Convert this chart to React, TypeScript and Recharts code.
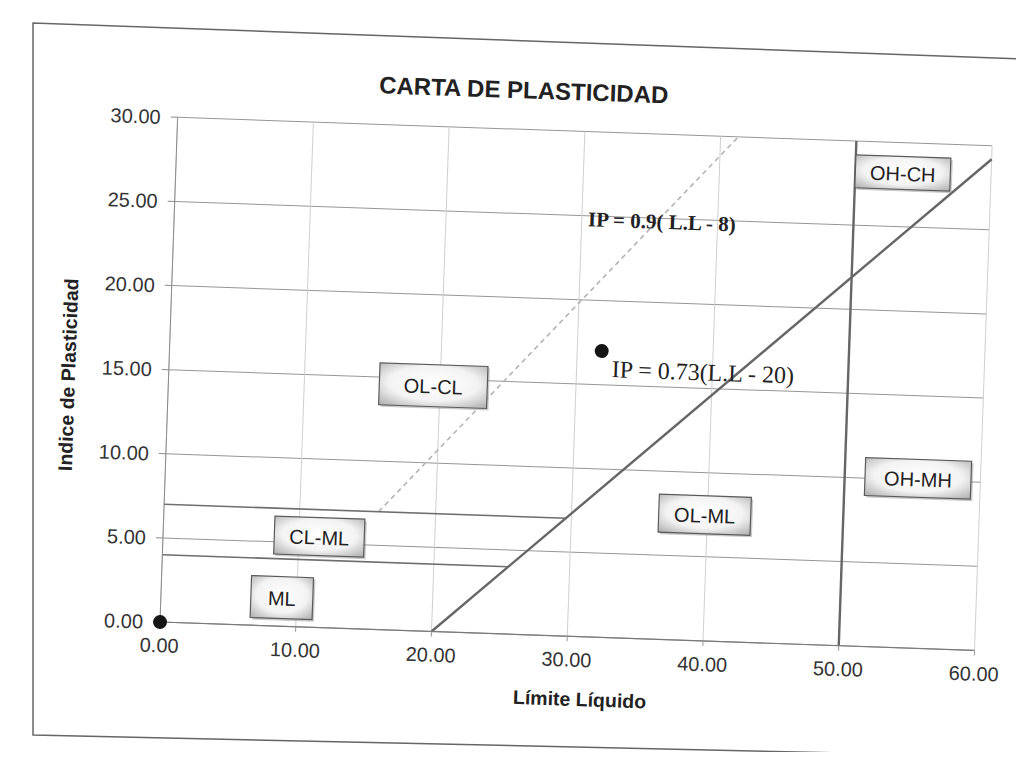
import React from "react";
import {
  ScatterChart,
  Scatter,
  XAxis,
  YAxis,
  CartesianGrid,
  ReferenceLine,
} from "recharts";

// ---------- data ----------
const xTicks = [0, 10, 20, 30, 40, 50, 60];
const yTicks = [0, 5, 10, 15, 20, 25, 30];

const samplePoints = [
  { x: 0, y: 0 },
  { x: 31.8, y: 17.0 },
];

const aLine = [
  { x: 20, y: 0 },
  { x: 60, y: 29.2 },
];
const uLine = [
  { x: 15.8, y: 7.0 },
  { x: 41.3, y: 30.0 },
];
const llFifty = [
  { x: 50, y: 0 },
  { x: 50, y: 30 },
];
const clmlUpper = [
  { x: 0, y: 7 },
  { x: 29.6, y: 7 },
];
const clmlLower = [
  { x: 0, y: 4 },
  { x: 25.5, y: 4 },
];

const zoneLabels = [
  { x: 19.5, y: 14.6, name: "OL-CL" },
  { x: 11.5, y: 5.4, name: "CL-ML" },
  { x: 8.9, y: 1.7, name: "ML" },
  { x: 39.8, y: 7.5, name: "OL-ML" },
  { x: 55.4, y: 10.1, name: "OH-MH" },
  { x: 53.5, y: 28.2, name: "OH-CH" },
];

const equations = [
  { x: 35.9, y: 24.8, text: "IP = 0.9( L.L - 8)" },
  { x: 39.3, y: 15.95, text: "IP = 0.73(L.L - 20)" },
];

const chartTitle = "CARTA DE PLASTICIDAD";
const xTitle = "Límite Líquido";
const yTitle = "Indice de Plasticidad";

// ---------- styles ----------
const SANS = "'Liberation Sans', Arial, Helvetica, sans-serif";
const SERIF = "'Liberation Serif', 'Times New Roman', serif";
const BOX_W: Record<string, number> = {
  "OL-CL": 108,
  "CL-ML": 90,
  ML: 62,
  "OL-ML": 92,
  "OH-MH": 106,
  "OH-CH": 95,
};
const BOX_H: Record<string, number> = {
  "OL-CL": 42,
  "CL-ML": 38,
  ML: 42,
  "OL-ML": 38,
  "OH-MH": 38,
  "OH-CH": 33,
};
const EQ_STYLE = [
  { fontSize: 21, fontWeight: "bold" },
  { fontSize: 24, fontWeight: "normal" },
];

const fmt = (v: number) => v.toFixed(2);

function ZoneBox(props: any) {
  const { cx, cy, payload } = props;
  if (cx == null || cy == null) return null;
  const w = BOX_W[payload.name] ?? 96;
  const h = BOX_H[payload.name] ?? 38;
  return (
    <g>
      <rect
        x={cx - w / 2 + 2}
        y={cy - h / 2 + 2}
        width={w}
        height={h}
        fill="#8c8c8c"
        opacity={0.45}
      />
      <rect
        x={cx - w / 2}
        y={cy - h / 2}
        width={w}
        height={h}
        fill="url(#boxFill)"
        stroke="#5a5a5a"
        strokeWidth={1.2}
      />
      <text
        x={cx}
        y={cy + 1}
        textAnchor="middle"
        dominantBaseline="central"
        fontFamily={SANS}
        fontSize={20}
        fill="#222"
      >
        {payload.name}
      </text>
    </g>
  );
}

function EquationText(props: any) {
  const { cx, cy, payload, index } = props;
  if (cx == null || cy == null) return null;
  const st = EQ_STYLE[equations.indexOf(payload?.payload ?? payload)] ??
    EQ_STYLE[index ?? 0] ?? EQ_STYLE[0];
  return (
    <text
      x={cx}
      y={cy}
      textAnchor="middle"
      dominantBaseline="central"
      fontFamily={SERIF}
      fontSize={st.fontSize}
      fontWeight={st.fontWeight}
      fill="#222"
    >
      {payload.text}
    </text>
  );
}

function Dot(props: any) {
  const { cx, cy } = props;
  if (cx == null || cy == null) return null;
  return <circle cx={cx} cy={cy} r={7} fill="#151515" />;
}

export default function App() {
  return (
    <div
      style={{
        position: "relative",
        width: 1008,
        height: 744,
        overflow: "hidden",
        background: "#fff",
      }}
    >
      <svg
        width={1008}
        height={744}
        style={{ position: "absolute", left: 0, top: 0 }}
      >
        <polyline
          points="1016,51 25,15 25,727 1016,749"
          fill="none"
          stroke="#666"
          strokeWidth={1.5}
        />
      </svg>
      <div
        style={{
          position: "absolute",
          left: 0,
          top: 0,
          width: 1000,
          height: 740,
          transform: "rotate(2deg)",
          transformOrigin: "152px 614px",
        }}
      >
        <div
          style={{
            position: "absolute",
            left: 497,
            top: 70,
            transform: "translate(-50%, -50%)",
            whiteSpace: "nowrap",
            fontFamily: SANS,
            fontWeight: "bold",
            fontSize: 24,
            color: "#222",
          }}
        >
          {chartTitle}
        </div>
        <div
          style={{
            position: "absolute",
            left: 52,
            top: 370,
            transform: "translate(-50%, -50%) rotate(-90deg)",
            whiteSpace: "nowrap",
            fontFamily: SANS,
            fontWeight: "bold",
            fontSize: 19.5,
            color: "#222",
          }}
        >
          {yTitle}
        </div>
        <div
          style={{
            position: "absolute",
            left: 574,
            top: 677,
            transform: "translate(-50%, -50%)",
            whiteSpace: "nowrap",
            fontFamily: SANS,
            fontWeight: "bold",
            fontSize: 19.5,
            color: "#222",
          }}
        >
          {xTitle}
        </div>
        <div style={{ position: "absolute", left: 0, top: 0 }}>
          <ScatterChart
            width={1000}
            height={740}
            margin={{ top: 109, right: 33, bottom: 46, left: 0 }}
          >
            <defs>
              <radialGradient id="boxFill" cx="50%" cy="45%" r="75%">
                <stop offset="0%" stopColor="#ffffff" />
                <stop offset="55%" stopColor="#f3f3f3" />
                <stop offset="100%" stopColor="#a9a9a9" />
              </radialGradient>
            </defs>
            <CartesianGrid vertical={false} stroke="#969696" strokeWidth={1} />
            <CartesianGrid horizontal={false} stroke="#cfcfcf" strokeWidth={1} />
            <XAxis
              type="number"
              dataKey="x"
              domain={[0, 60]}
              ticks={xTicks}
              tickFormatter={fmt}
              height={80}
              axisLine={{ stroke: "#7a7a7a", strokeWidth: 1.2 }}
              tickLine={{ stroke: "#999" }}
              tickSize={5}
              tickMargin={11}
              tick={{ fill: "#333", fontSize: 20, fontFamily: SANS }}
            />
            <YAxis
              type="number"
              dataKey="y"
              domain={[0, 30]}
              ticks={yTicks}
              tickFormatter={fmt}
              width={152}
              axisLine={{ stroke: "#8a8a8a", strokeWidth: 1 }}
              tickLine={{ stroke: "#8a8a8a" }}
              tickSize={7}
              tickMargin={10}
              tick={{ fill: "#333", fontSize: 20, fontFamily: SANS }}
            />
            <ReferenceLine
              segment={uLine}
              stroke="#b3b3b3"
              strokeWidth={1.6}
              strokeDasharray="5 4"
            />
            <ReferenceLine segment={clmlUpper} stroke="#6e6e6e" strokeWidth={1.6} />
            <ReferenceLine segment={clmlLower} stroke="#6e6e6e" strokeWidth={1.6} />
            <ReferenceLine segment={llFifty} stroke="#666" strokeWidth={2.4} />
            <ReferenceLine segment={aLine} stroke="#666" strokeWidth={2.4} />
            <Scatter
              data={zoneLabels}
              shape={ZoneBox}
              isAnimationActive={false}
            />
            <Scatter
              data={equations}
              shape={EquationText}
              isAnimationActive={false}
            />
            <Scatter
              data={samplePoints}
              shape={Dot}
              isAnimationActive={false}
            />
          </ScatterChart>
        </div>
      </div>
    </div>
  );
}
